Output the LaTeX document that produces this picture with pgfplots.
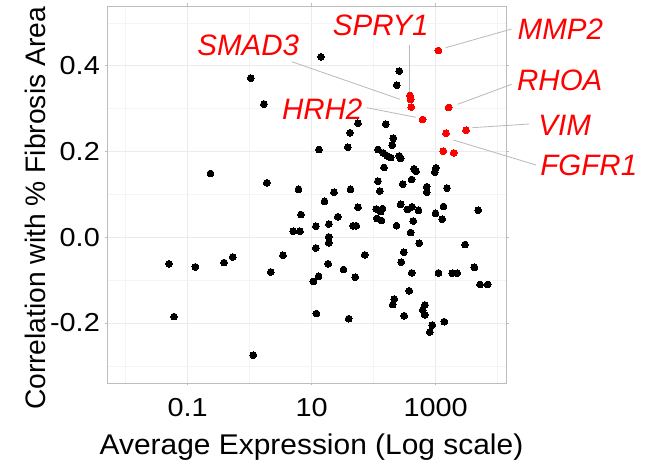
\documentclass[border=0pt]{standalone}
\usepackage{fontspec}
\setmainfont{Liberation Sans}
\newfontfamily\tickfont[FakeStretch=1.11]{Liberation Sans}
\newfontfamily\xtitlefont[FakeStretch=1.05]{Liberation Sans}
\usepackage{pgfplots}
\usepackage{pgfplotstable}
\pgfplotsset{compat=1.18}
\definecolor{bordergray}{HTML}{BDBDBD}
\definecolor{gridmaj}{HTML}{EBEBEB}
\definecolor{gridmin}{HTML}{F4F4F4}
\definecolor{segcol}{HTML}{B8B8B8}
\definecolor{labred}{HTML}{FF0000}

\pgfplotstableread{
x y
14.1 0.421
1.04 0.371
1.70 0.311
259 0.388
235 0.355
55.8 0.266
156 0.264
41.5 0.244
207 0.231
199.5 0.215
13.1 0.205
38.1 0.210
117 0.205
143 0.197
166 0.190
188 0.186
259 0.190
272 0.184
147 0.163
447 0.160
481 0.154
1012 0.162
964 0.152
410 0.135
294 0.124
117 0.131
716 0.118
716 0.105
1521 0.115
126 0.108
42.3 0.112
22.9 0.105
6.12 0.112
16.1 0.084
55.8 0.070
272 0.077
110 0.066
139 0.067
130 0.060
348 0.065
415 0.071
528 0.063
993 0.056
1337 0.072
1276 0.042
435 0.038
6.71 0.053
26.4 0.048
112 0.044
134 0.039
19.0 0.031
11.7 0.026
46.3 0.027
52.4 0.027
233 0.027
5.05 0.014
6.47 0.014
18.8 0.001
18.8 -0.013
11.7 -0.025
71.6 -0.041
395 0.011
542 -0.014
2972 -0.017
4842 0.063
306 -0.035
279 -0.058
18.5 -0.062
32.6 -0.075
50.4 -0.093
12.9 -0.091
10.6 -0.103
410 -0.083
1109 -0.083
1845 -0.084
2222 -0.084
4200 -0.070
5190 -0.110
6900 -0.110
375 -0.125
215 -0.144
203 -0.157
671 -0.158
617 -0.170
667 -0.181
310 -0.183
1377 -0.197
881 -0.205
804 -0.221
11.9 -0.178
39.5 -0.190
0.233 0.149
1.89 0.127
3.44 -0.042
2.18 -0.081
0.385 -0.059
0.532 -0.046
0.133 -0.069
0.0499 -0.062
0.0601 -0.185
1.143 -0.275
}\blackpts

\pgfplotstableread{
x y
1101 0.436
385 0.331
395 0.322
404 0.304
1622 0.303
617 0.275
3085 0.250
1466 0.243
1327 0.201
1950 0.197
}\redpts

\begin{document}
\begin{tikzpicture}[x=1bp,y=1bp]
\useasboundingbox (0,0) rectangle (649,476);
\begin{axis}[
  at={(107.5bp,93bp)}, anchor=south west,
  scale only axis, width=398.5bp, height=377bp,
  xmode=log, log basis x=10,
  xmin=0.005086, xmax=13614, ymin=-0.340, ymax=0.5398,
  xtick={0.1,10,1000}, xticklabels={0.1,10,1000},
  minor xtick={0.01,1,100,10000},
  ytick={-0.2,0,0.2,0.4}, yticklabels={-0.2,0.0,0.2,0.4},
  minor ytick={-0.3,-0.1,0.1,0.3,0.5},
  grid=both,
  major grid style={gridmaj, line width=0.8bp},
  minor grid style={gridmin, line width=0.5bp},
  axis line style={bordergray, line width=0.8bp},
  tick align=outside, major tick length=2.5bp, minor tick length=0pt,
  tick style={bordergray, line width=0.8bp},
  /pgf/number format/assume math mode=true,
  xticklabel style={font=\tickfont\fontsize{26bp}{26bp}\selectfont, inner sep=0pt, anchor=north, yshift=-12.5bp},
  yticklabel style={font=\tickfont\fontsize{26bp}{26bp}\selectfont, inner sep=0pt, anchor=east, xshift=-5bp},
]
\addplot[only marks, mark=*, mark size=3.4bp, mark options={fill=black, draw=black, line width=0pt}] table[x=x,y=y]{\blackpts};
\addplot[only marks, mark=*, mark size=3.4bp, mark options={fill=labred, draw=labred, line width=0pt}] table[x=x,y=y]{\redpts};
\end{axis}
% leader segments
\begin{scope}[segcol, line width=0.8bp]
\draw (409.3,431) -- (409.3,384);
\draw (291.7,414.3) -- (400,376.7);
\draw (366.7,368.3) -- (416,358.7);
\draw (445.7,428.3) -- (511.7,447);
\draw (457.7,371.7) -- (511.7,391.7);
\draw (472.3,348.3) -- (529.3,352);
\draw (453.3,336) -- (536,311);
\end{scope}
% gene labels
\begin{scope}[every node/.style={text=labred, inner sep=0pt, anchor=center, font=\fontsize{29.5bp}{30bp}\selectfont\itshape}]
\node at (380.8,451) {SPRY1};
\node at (248.3,431) {SMAD3};
\node at (322.2,367.2) {HRH2};
\node at (560.3,446.8) {MMP2};
\node at (559.8,395.2) {RHOA};
\node at (564.7,350.2) {VIM};
\node at (588.8,310.2) {FGFR1};
\end{scope}
% axis titles
\node[anchor=base, inner sep=0pt, font=\xtitlefont\fontsize{28.5bp}{29bp}\selectfont] at (311.5,21) {Average Expression (Log scale)};
\node[anchor=base, rotate=90, inner sep=0pt, font=\fontsize{28.2bp}{29bp}\selectfont] at (45,267.5) {Correlation with \% Fibrosis Area};
\end{tikzpicture}
\end{document}
